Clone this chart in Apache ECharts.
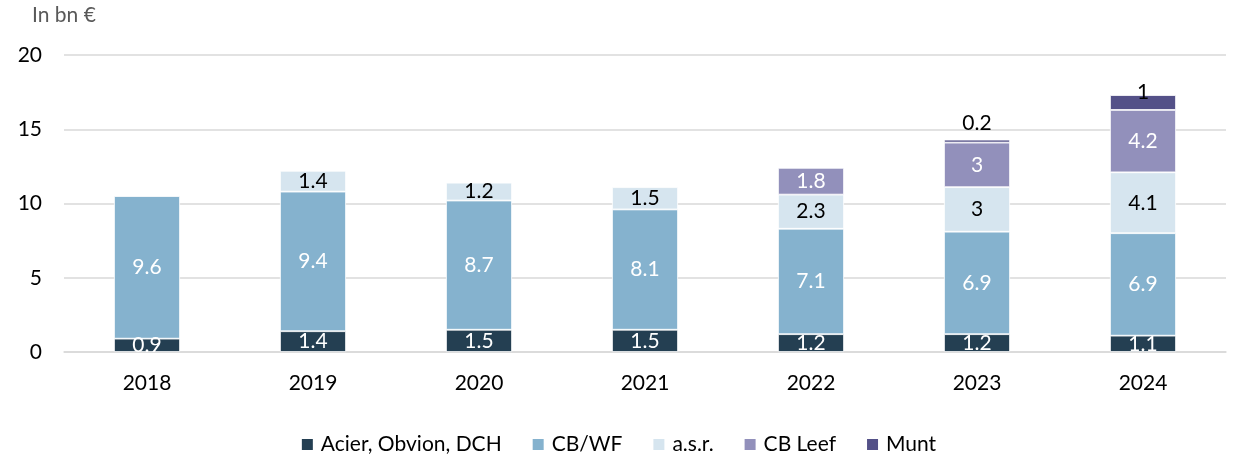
<!DOCTYPE html>
<html><head><meta charset="utf-8">
<script src="https://cdn.jsdelivr.net/npm/echarts@6/dist/echarts.min.js"></script>
<style>html,body{margin:0;padding:0;background:#fff}#c{width:1236px;height:454px}</style>
</head><body><div id="c"></div>
<script>
const categories = ['2018','2019','2020','2021','2022','2023','2024'];
const acier = [0.9, 1.4, 1.5, 1.5, 1.2, 1.2, 1.1];
const cbwf = [9.6, 9.4, 8.7, 8.1, 7.1, 6.9, 6.9];
const asr = [null, 1.4, 1.2, 1.5, 2.3, 3, 4.1];
const cbLeef = [null, null, null, null, 1.8, 3, 4.2];
const munt = [null, null, null, null, null, 0.2, 1];
const yTicks = [0, 5, 10, 15, 20];

const FONT = 'Lato, "Open Sans", sans-serif';
const FS = 21;
const chart = echarts.init(document.getElementById('c'));
function series(name, data, color, labelColor) {
  return {
    name, type: 'bar', stack: 'total', data, barWidth: 66,
    itemStyle: { color, borderColor: '#fff', borderWidth: 0.8 },
    label: { show: true, position: 'inside', color: labelColor, fontSize: FS, fontFamily: FONT,
      formatter: p => (p.value == null ? '' : String(p.value)) }
  };
}
const muntSeries = series('Munt', munt.map((v, i) => {
  if (v == null) return v;
  return { value: v, label: { position: 'top', distance: v < 0.5 ? 6 : -8 } };
}), '#545188', '#000');
chart.setOption({
  animation: false,
  textStyle: { fontFamily: FONT },
  grid: { left: 64, right: 10, top: 55, bottom: 102 },
  graphic: [{ type: 'text', left: 32, top: 5, style: { text: 'In bn €', fontSize: FS, fill: '#595959', fontFamily: FONT } }],
  legend: {
    top: 429, left: 'center', itemWidth: 13, itemHeight: 13, itemGap: 29,
    icon: 'rect', textStyle: { fontSize: FS, color: '#000', fontFamily: FONT, padding: [0, 0, 0, 2] },
    data: ['Acier, Obvion, DCH', 'CB/WF', 'a.s.r.', 'CB Leef', 'Munt']
  },
  xAxis: {
    type: 'category', data: categories,
    axisLine: { lineStyle: { color: '#D9D9D9', width: 1.5 } },
    axisTick: { show: false },
    axisLabel: { fontSize: FS, color: '#000', margin: 21, fontFamily: FONT }
  },
  yAxis: {
    type: 'value', min: yTicks[0], max: yTicks[yTicks.length - 1], interval: 5,
    axisLine: { show: false }, axisTick: { show: false },
    splitLine: { lineStyle: { color: '#D9D9D9', width: 1.5 } },
    axisLabel: { fontSize: FS, color: '#000', margin: 22, fontFamily: FONT }
  },
  series: [
    series('Acier, Obvion, DCH', acier, '#243F52', '#fff'),
    series('CB/WF', cbwf, '#85B2CE', '#fff'),
    series('a.s.r.', asr, '#D6E5EF', '#000'),
    series('CB Leef', cbLeef, '#9290BB', '#fff'),
    muntSeries
  ]
});
</script></body></html>
